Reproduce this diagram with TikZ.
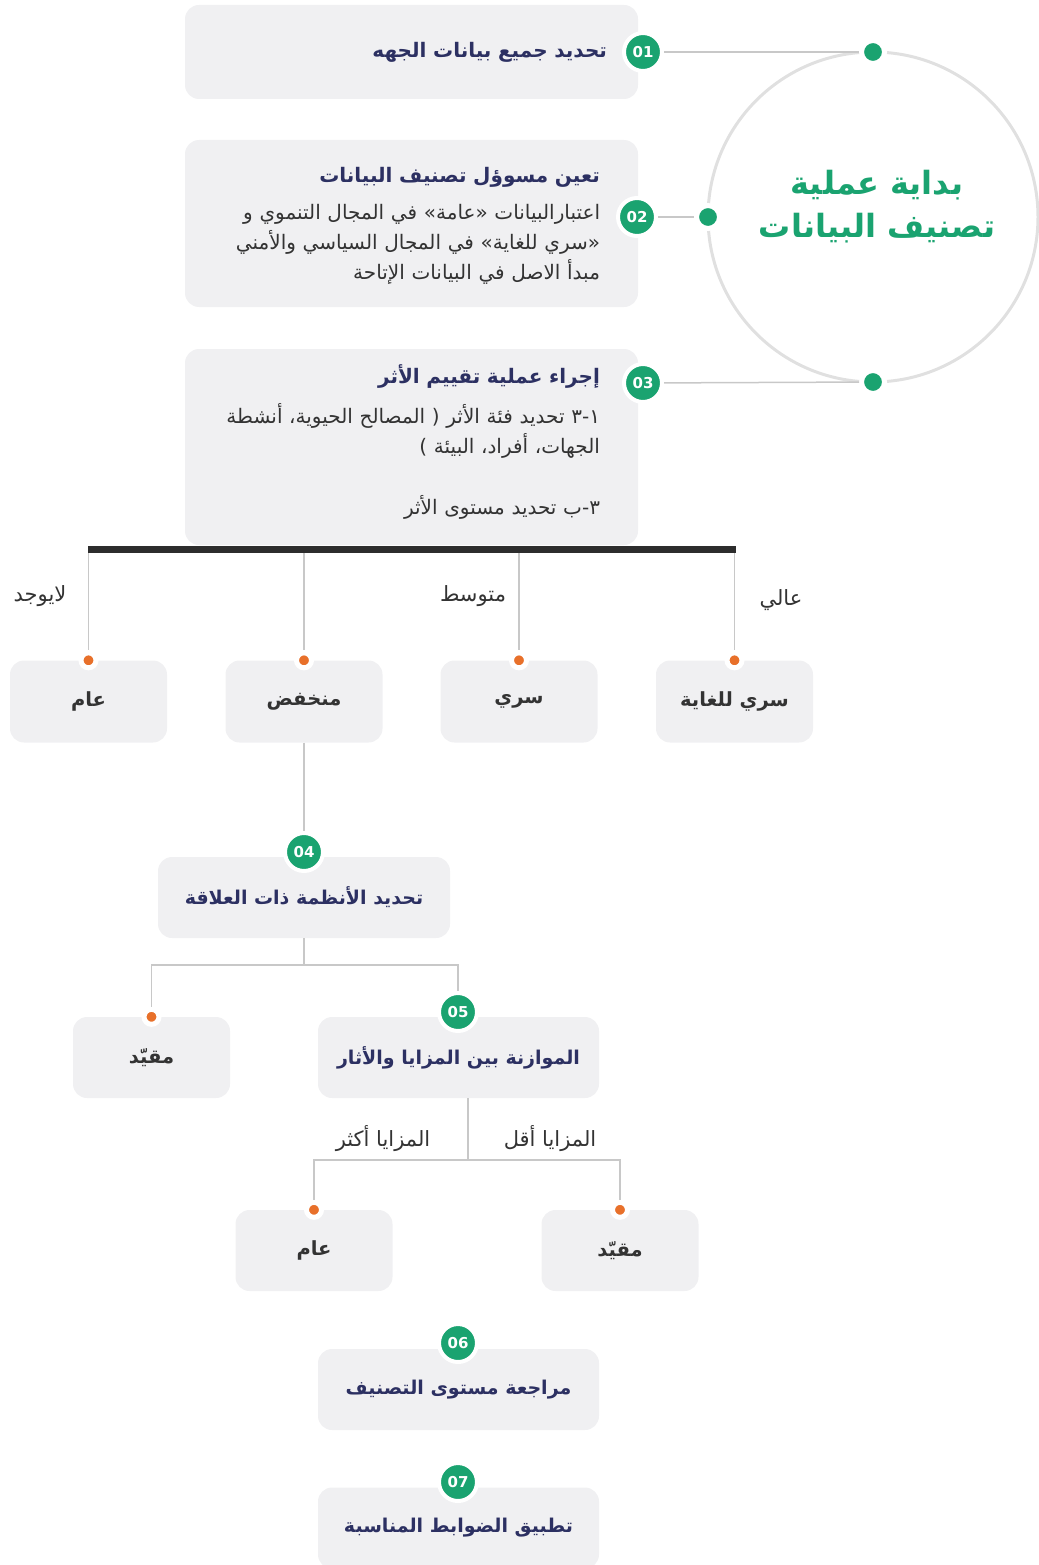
\documentclass[tikz,border=0pt]{standalone}
\usepackage{fontspec}
\setmainfont{DejaVu Sans}
\newfontfamily\arabicfont[Script=Arabic]{DejaVu Sans}
\TeXXeTstate=1
\usetikzlibrary{positioning}
\definecolor{stepgreen}{RGB}{26,163,112}
\definecolor{navy}{RGB}{44,48,98}
\definecolor{boxgray}{RGB}{240,240,242}
\definecolor{linegray}{RGB}{200,200,200}
\definecolor{ringgray}{RGB}{224,224,224}
\definecolor{textgray}{RGB}{51,51,51}
\definecolor{dotorange}{RGB}{232,112,42}
\definecolor{bardark}{RGB}{45,45,45}

\newcommand{\artxt}[1]{\beginR #1\endR}
\newcommand{\titlef}{\arabicfont\bfseries\fontsize{20}{26}\selectfont}
\newcommand{\midf}{\arabicfont\bfseries\fontsize{19}{26}\selectfont}
\newcommand{\bodyf}{\arabicfont\fontsize{20}{30}\selectfont}
\newcommand{\leaff}{\arabicfont\bfseries\fontsize{19.5}{26}\selectfont}
\newcommand{\lblf}{\arabicfont\fontsize{21}{26}\selectfont}
\newcommand{\numf}{\bfseries\fontsize{15}{18}\selectfont}
\newcommand{\ringf}{\arabicfont\bfseries\fontsize{32}{43}\selectfont}

\tikzset{
  stepbox/.style={rectangle, rounded corners=14pt, fill=boxgray, inner sep=0pt},
  widebox/.style={stepbox, minimum width=453pt, align=right},
  boxtext/.style={align=right, text width=377pt, inner sep=0pt, text=textgray, font=\bodyf},
  midbox/.style={stepbox, minimum width=281pt, minimum height=81pt, text=navy, font=\midf},
  leafbox/.style={stepbox, minimum width=157pt, minimum height=82pt, text=textgray, font=\leaff},
  numbadge/.style={circle, fill=stepgreen, draw=white, line width=4pt, minimum size=38pt, inner sep=0pt, text=white, font=\numf},
  gdot/.style={circle, fill=stepgreen, draw=white, line width=5pt, minimum size=23pt, inner sep=0pt},
  odot/.style={circle, fill=dotorange, draw=white, line width=5pt, minimum size=15pt, inner sep=0pt},
  linkline/.style={draw=linegray, line width=1.5pt},
  lvllabel/.style={text=textgray, font=\lblf, inner sep=0pt},
}

\begin{document}
\begin{tikzpicture}[x=1pt,y=-1pt]
\useasboundingbox (0,0) rectangle (1038,1565);

% Ring
\node[circle, draw=ringgray, line width=3pt, minimum size=330pt, inner sep=0pt, outer sep=0pt] (ring) at (873,217) {};
\node[text=stepgreen, font=\ringf, align=center] (ringtxt) at (877,207) {\artxt{بداية عملية}\\\artxt{تصنيف البيانات}};
\node[gdot] (rtop) at (ring.north) {};
\node[gdot] (rleft) at (ring.west) {};
\node[gdot] (rbottom) at (ring.south) {};

% Step 1
\node[widebox, minimum height=94pt, text width=391pt, text=navy, font=\titlef] (s1) at (411.5,52) {\artxt{تحديد جميع بيانات الجهه}};
% Step 2
\node[widebox, minimum height=167pt] (s2) at (411.5,223.5) {};
\node[boxtext] (s2txt) at (411.5,226)
  {{\titlef\color{navy}\artxt{تعين مسوؤل تصنيف البيانات}}\\[7pt]
   \artxt{اعتبارالبيانات «عامة» في المجال التنموي و}\\
   \artxt{«سري للغاية» في المجال السياسي والأمني}\\
   \artxt{مبدأ الاصل في البيانات الإتاحة}};
% Step 3
\node[widebox, minimum height=196pt] (s3) at (411.5,447) {};
\node[boxtext] (s3txt) at (411.5,442)
  {{\titlef\color{navy}\artxt{إجراء عملية تقييم الأثر}}\\[10pt]
   \artxt{١-٣ تحديد فئة الأثر ( المصالح الحيوية، أنشطة}\\
   \artxt{الجهات، أفراد، البيئة )}\\[31pt]
   \artxt{٣-ب تحديد مستوى الأثر}};

\node[numbadge] (n1) at (643,52) {01};
\node[numbadge] (n2) at (637,217) {02};
\node[numbadge] (n3) at (643,383) {03};
\draw[linkline] (n1) -- (rtop);
\draw[linkline] (n2) -- (rleft);
\draw[linkline] (n3) -- (rbottom);

% Impact levels
\coordinate (barL) at (88,549);
\coordinate (barR) at (736,549);
\node[leafbox] (l1) at (88.5,701.5) {\artxt{عام}};
\node[leafbox] (l2) at (304,701.5) {\artxt{منخفض}};
\node[leafbox] (l3) at (519,701.5) {\artxt{سري}};
\node[leafbox] (l4) at (734.5,701.5) {\artxt{سري للغاية}};
\foreach \i in {1,...,4} {
  \node[odot] (o\i) at (l\i.north) {};
  \draw[linkline] (o\i |- barL) -- (o\i);
}
\draw[bardark, line width=7pt] (barL) -- (barR);
\node[lvllabel] (lnone) at (40,596) {\artxt{لايوجد}};
\node[lvllabel] (lmid) at (473,596) {\artxt{متوسط}};
\node[lvllabel] (lhigh) at (781,600) {\artxt{عالي}};

% Step 4
\node[stepbox, minimum width=292pt, minimum height=81pt, text=navy, font=\midf] (s4) at (304,897.5) {\artxt{تحديد الأنظمة ذات العلاقة}};
\node[numbadge] (n4) at (304,852) {04};
\draw[linkline] (l2) -- (n4);

% Step 5
\coordinate (j4) at (305,965);
\node[leafbox, minimum height=81pt] (m1) at (151.5,1057.5) {\artxt{مقيّد}};
\node[odot] (o5) at (m1.north) {};
\node[midbox] (s5) at (458.5,1057.5) {\artxt{الموازنة بين المزايا والأثار}};
\node[numbadge] (n5) at (458,1012) {05};
\draw[linkline] (s4) -- (s4 |- j4);
\draw[linkline] (o5) |- (j4) -| (n5);

\coordinate (j5) at (468,1160);
\node[leafbox, minimum height=81pt] (r1) at (314,1250.5) {\artxt{عام}};
\node[leafbox, minimum height=81pt] (r2) at (620,1250.5) {\artxt{مقيّد}};
\node[odot] (o6) at (r1.north) {};
\node[odot] (o7) at (r2.north) {};
\draw[linkline] (s5.south -| j5) -- (j5);
\draw[linkline] (o6) |- (j5) -| (o7);
\node[lvllabel] (lmore) at (383,1139) {\artxt{المزايا أكثر}};
\node[lvllabel] (lless) at (550,1139) {\artxt{المزايا أقل}};

% Step 6 and 7
\node[midbox] (s6) at (458.5,1389.5) {\artxt{مراجعة مستوى التصنيف}};
\node[numbadge] (n6) at (458,1343) {06};
\node[midbox] (s7) at (458.5,1528) {\artxt{تطبيق الضوابط المناسبة}};
\node[numbadge] (n7) at (458,1482) {07};
\end{tikzpicture}
\end{document}
